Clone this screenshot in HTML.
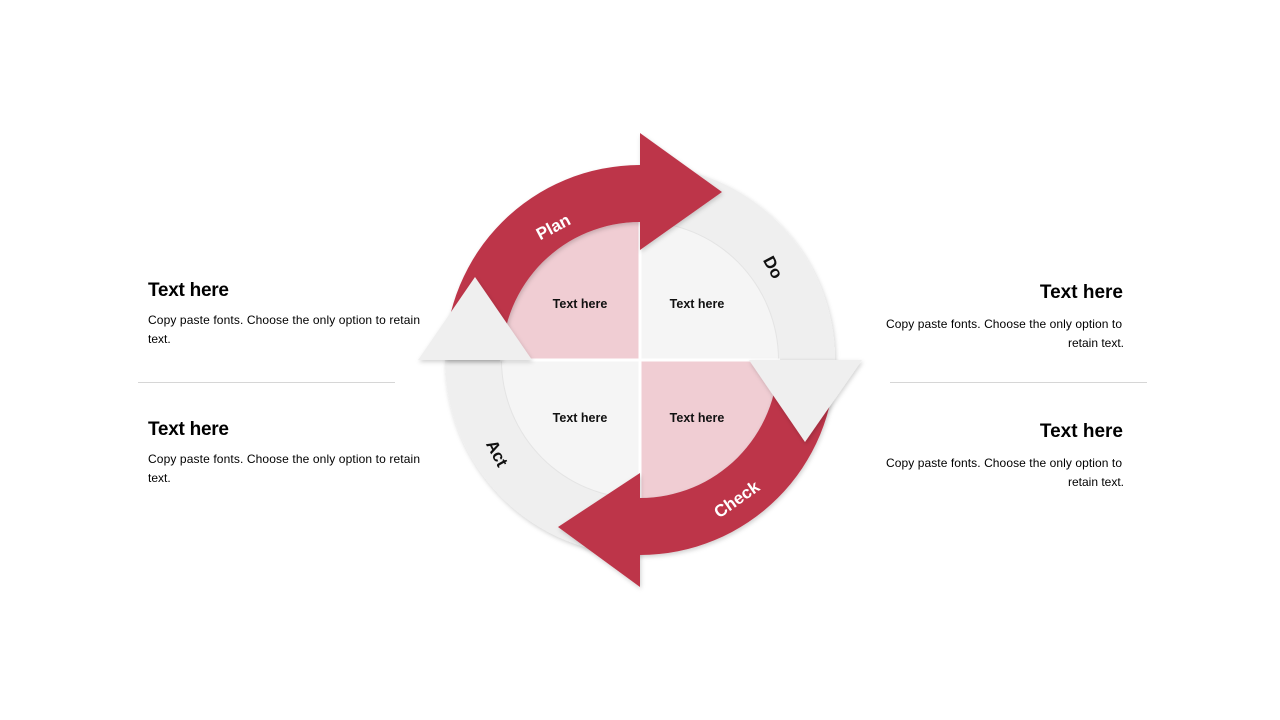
<!DOCTYPE html>
<html><head><meta charset="utf-8"><style>
html,body{margin:0;padding:0;background:#fff;}
svg{display:block;font-family:"Liberation Sans",sans-serif;}
</style></head><body>
<svg width="1280" height="720" viewBox="0 0 1280 720">
<defs>
<filter id="sh" x="-20%" y="-20%" width="140%" height="140%"><feDropShadow dx="1" dy="2" stdDeviation="2" flood-color="#000" flood-opacity="0.18"/></filter>
</defs>
<!-- gray arcs -->
<path d="M640 165 A195 195 0 0 1 835 360 L778 360 A138 138 0 0 0 640 222 Z" fill="#efefef" filter="url(#sh)"/>
<path d="M640 555 A195 195 0 0 1 445 360 L502 360 A138 138 0 0 0 640 498 Z" fill="#efefef" filter="url(#sh)"/>
<!-- inner quadrants -->
<circle cx="640" cy="360" r="139" fill="#e4e4e4"/>
<path d="M640 360 L502 360 A138 138 0 0 1 640 222 Z" fill="#f0cdd3"/>
<path d="M640 360 L640 222 A138 138 0 0 1 778 360 Z" fill="#f5f5f5"/>
<path d="M640 360 L778 360 A138 138 0 0 1 640 498 Z" fill="#f0cdd3"/>
<path d="M640 360 L640 498 A138 138 0 0 1 502 360 Z" fill="#f5f5f5"/>
<line x1="640" y1="220" x2="640" y2="500" stroke="#fff" stroke-width="3"/>
<line x1="500" y1="360" x2="780" y2="360" stroke="#fff" stroke-width="3"/>
<!-- red arcs -->
<path d="M445 360 A195 195 0 0 1 640 165 L640 133 L722 192 L640 250 L640 222 A138 138 0 0 0 502 360 Z" fill="#bd364a" filter="url(#sh)"/>
<path d="M835 360 A195 195 0 0 1 640 555 L640 587 L558 527 L640 473 L640 498 A138 138 0 0 0 778 360 Z" fill="#bd364a" filter="url(#sh)"/>
<!-- gray arrowheads -->
<polygon points="749,360 862,360 805,442" fill="#efefef" filter="url(#sh)"/>
<polygon points="418,360 532,360 475,277" fill="#efefef" filter="url(#sh)"/>
<!-- inner texts -->
<g font-size="12.5" font-weight="bold" text-anchor="middle" fill="#111">
<text x="580" y="308">Text here</text>
<text x="697" y="308">Text here</text>
<text x="580" y="422">Text here</text>
<text x="697" y="422">Text here</text>
</g>
<!-- ring labels -->
<g font-size="17" font-weight="bold" text-anchor="middle">
<text transform="translate(556,232) rotate(-28)" fill="#fff">Plan</text>
<text transform="translate(768,270) rotate(62)" fill="#111">Do</text>
<text transform="translate(740,504) rotate(-35)" fill="#fff">Check</text>
<text transform="translate(492,456) rotate(62)" fill="#111">Act</text>
</g>
<!-- side texts -->
<g fill="#000">
<text x="148" y="296" font-size="19" font-weight="bold" textLength="81">Text here</text>
<text x="148" y="324" font-size="12" textLength="272">Copy paste fonts. Choose the only option to retain</text>
<text x="148" y="343" font-size="12">text.</text>
<text x="148" y="435" font-size="19" font-weight="bold" textLength="81">Text here</text>
<text x="148" y="463" font-size="12" textLength="272">Copy paste fonts. Choose the only option to retain</text>
<text x="148" y="482" font-size="12">text.</text>
<text x="1123" y="298" font-size="19" font-weight="bold" text-anchor="end">Text here</text>
<text x="886" y="328" font-size="12" textLength="236">Copy paste fonts. Choose the only option to</text>
<text x="1124" y="347" font-size="12" text-anchor="end">retain text.</text>
<text x="1123" y="437" font-size="19" font-weight="bold" text-anchor="end">Text here</text>
<text x="886" y="467" font-size="12" textLength="236">Copy paste fonts. Choose the only option to</text>
<text x="1124" y="486" font-size="12" text-anchor="end">retain text.</text>
</g>
<line x1="138" y1="382.5" x2="395" y2="382.5" stroke="#d6d6d6" stroke-width="1"/>
<line x1="890" y1="382.5" x2="1147" y2="382.5" stroke="#d6d6d6" stroke-width="1"/>
</svg>
</body></html>
